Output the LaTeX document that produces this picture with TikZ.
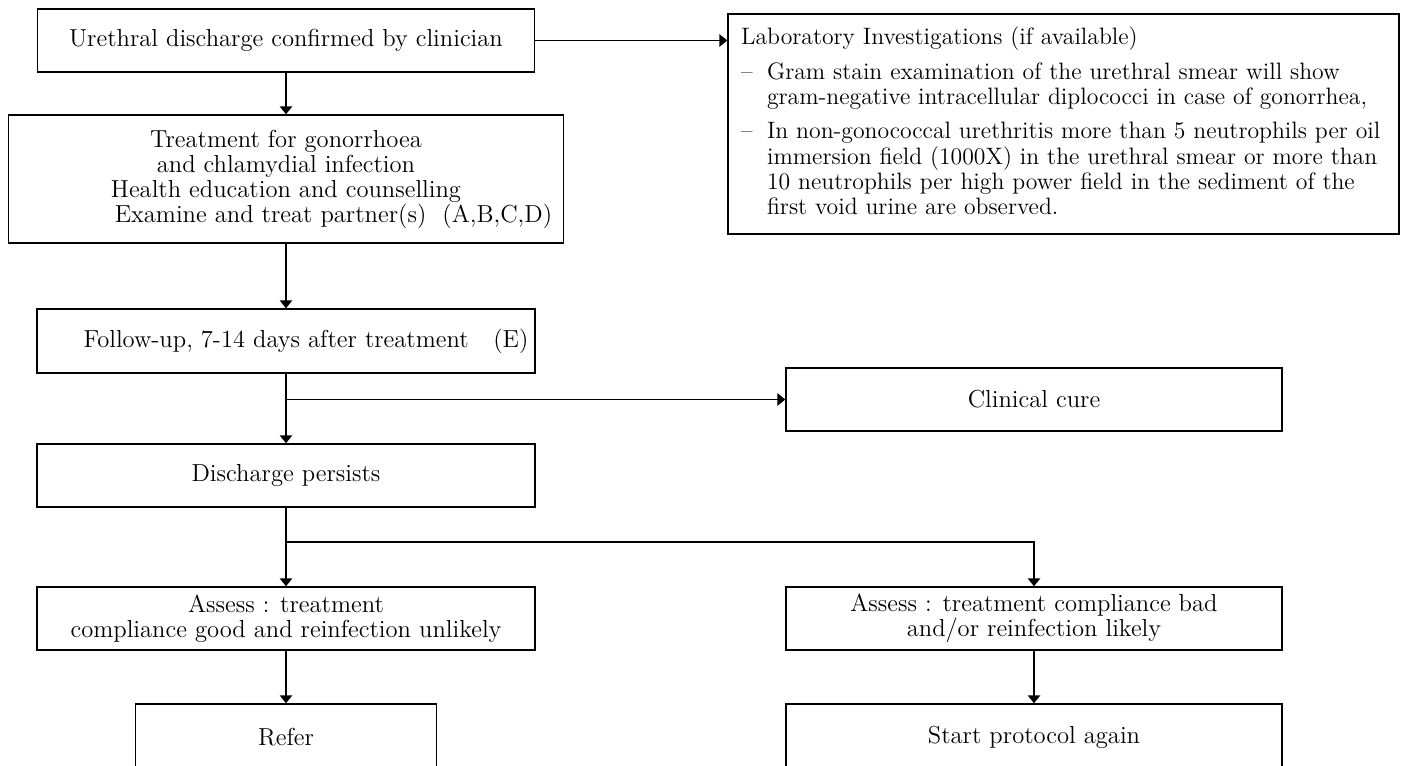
\documentclass[tikz,border=0pt]{standalone}
\usepackage{tikz}
\usetikzlibrary{arrows.meta}

\begin{document}
\begin{tikzpicture}[
  x=0.02cm, y=-0.02cm,
  box/.style={draw,line width=0.8pt,align=center,
  font=\fontsize{14pt}{14.2pt}\selectfont,minimum height=1.26cm},
  arr/.style={line width=0.8pt,-{Triangle[length=4.5pt,width=7pt]}},
]
\useasboundingbox (0,0) rectangle (1404,765);
\clip (0,0) rectangle (1404,765);

\node[box,minimum width=9.94cm] (start) at (286,40.5) {Urethral discharge confirmed by clinician};
\node[box,minimum width=11.1cm,minimum height=2.56cm,inner xsep=2pt] (treat) at (286,179)
  {Treatment for gonorrhoea\\ and chlamydial infection\\ Health education and counselling\\
  \hspace*{1.9cm}Examine and treat partner(s)\ \ (A,B,C,D)};
\node[box,minimum width=13.42cm,minimum height=4.4cm,inner xsep=0.26cm,text width=12.9cm,align=left,
  font=\fontsize{13.5pt}{14.2pt}\selectfont] (lab) at (1063.5,124)
  {\begin{tabular}{@{}p{0.52cm}@{}l@{}}
  \multicolumn{2}{@{}l@{}}{Laboratory Investigations (if available)}\\[0.2cm]
  -- & Gram stain examination of the urethral smear will show\\
     & gram-negative intracellular diplococci in case of gonorrhea,\\[0.2cm]
  -- & In non-gonococcal urethritis more than 5 neutrophils per oil\\
     & immersion field (1000X) in the urethral smear or more than\\
     & 10 neutrophils per high power field in the sediment of the\\
     & first void urine are observed.
  \end{tabular}};
\node[box,minimum width=9.96cm,minimum height=1.28cm,inner xsep=2pt] (follow) at (286,341)
  {\hspace*{0.8cm}Follow-up, 7-14 days after treatment\quad(E)};
\node[box,minimum width=9.92cm] (cure) at (1034,399.5) {Clinical cure};
\node[box,minimum width=9.96cm] (persist) at (286,475.5) {Discharge persists};
\node[box,minimum width=9.96cm] (assessL) at (286,618.5) {Assess : treatment\\ compliance good and reinfection unlikely};
\node[box,minimum width=9.92cm] (assessR) at (1034,618.5) {Assess : treatment compliance bad\\ and/or reinfection likely};
\node[box,minimum width=6.02cm,minimum height=1.32cm] (refer) at (286,737) {Refer};
\node[box,minimum width=9.92cm,minimum height=1.32cm] (restart) at (1034,737) {Start protocol again};

\coordinate (fork1) at (follow.south |- cure.west);
\coordinate (fork2) at (286,542);

\draw[arr] (start.east) -- (lab.west |- start.east);
\draw[arr] (start) -- (treat);
\draw[arr] (treat) -- (follow);
\draw[arr] (follow) -- (persist);
\draw[arr] (fork1) -- (cure);
\draw[arr] (persist) -- (assessL);
\draw[arr] (fork2) -| (assessR);
\draw[arr] (assessL) -- (refer);
\draw[arr] (assessR) -- (restart);
\end{tikzpicture}
\end{document}
